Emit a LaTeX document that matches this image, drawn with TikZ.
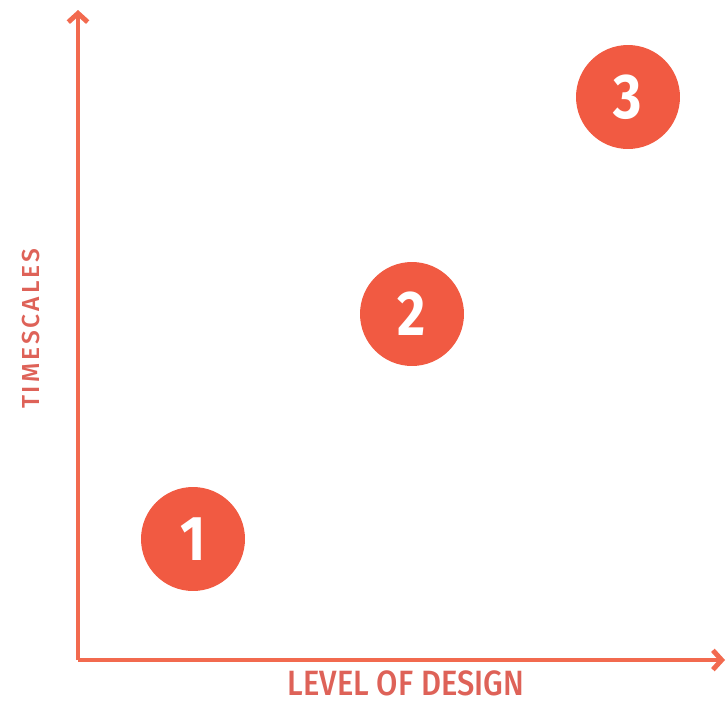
\documentclass[tikz,border=0pt]{standalone}
\usepackage{fontspec}
\setmainfont[FakeStretch=0.86]{Fira Sans}
\newfontfamily\medfont[FakeStretch=0.88]{Fira Sans Medium}
\newfontfamily\widefont[LetterSpace=12]{Fira Sans Medium}
\usetikzlibrary{arrows.meta}
\definecolor{axisred}{HTML}{F26A4F}
\definecolor{dotred}{HTML}{F15A42}
\definecolor{labelred}{HTML}{DE6258}
\begin{document}
\begin{tikzpicture}[x=0.02cm, y=-0.02cm, line width=2.8pt,
  >={Straight Barb[length=5pt,width=11pt]},
  dot/.style={circle, fill=dotred, minimum size=2.08cm, inner sep=0pt,
    text=white, font=\fontsize{36}{36}\selectfont\bfseries},
  axislabel/.style={text=labelred, inner sep=0pt}]
\useasboundingbox (0,0) rectangle (728,703);

\coordinate (origin) at (78,660);
\coordinate (ytop) at (78,10);
\coordinate (xend) at (725,660);
\draw[->,axisred] (origin) -- (ytop);
\draw[->,axisred] (origin) -- (xend);

\node[axislabel, anchor=base, font=\fontsize{20}{20}\selectfont\medfont]
  (xlabel) at (406,695) {LEVEL OF DESIGN};
\node[axislabel, rotate=90, font=\fontsize{14}{14}\selectfont\widefont]
  (ylabel) at (31,329) {TIMESCALES};

\node[dot] (one) at (193,539) {1};
\node[dot] (two) at (412,314) {2};
\node[dot] (three) at (628,97) {3};

\end{tikzpicture}
\end{document}
